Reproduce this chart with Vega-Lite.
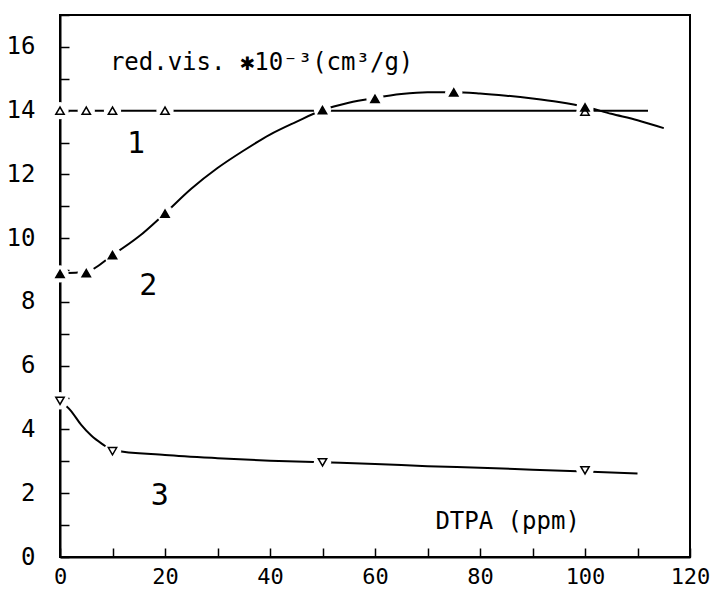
{
  "$schema": "https://vega.github.io/schema/vega-lite/v6.json",
  "autosize": "none",
  "width": 630,
  "height": 542,
  "padding": {"left": 60, "top": 15, "right": 20, "bottom": 37},
  "background": "white",
  "config": {
    "view": {"stroke": "black", "strokeWidth": 2},
    "axis": {
      "domainColor": "black", "domainWidth": 2,
      "tickColor": "black", "tickWidth": 1.5, "tickSize": -9,
      "labelFont": "DejaVu Sans Mono", "labelFontSize": 24, "labelColor": "black",
      "grid": false, "title": null, "zindex": 1
    }
  },
  "datasets": {
    "curves": [
      {"series": "1", "dtpa": 0, "vis": 14.0},
      {"series": "1", "dtpa": 112, "vis": 14.0},
      {"series": "2", "dtpa": 0, "vis": 8.9},
      {"series": "2", "dtpa": 5, "vis": 8.95},
      {"series": "2", "dtpa": 10, "vis": 9.47},
      {"series": "2", "dtpa": 15, "vis": 10.05},
      {"series": "2", "dtpa": 20, "vis": 10.78},
      {"series": "2", "dtpa": 25, "vis": 11.55},
      {"series": "2", "dtpa": 30, "vis": 12.2},
      {"series": "2", "dtpa": 35, "vis": 12.75},
      {"series": "2", "dtpa": 40, "vis": 13.25},
      {"series": "2", "dtpa": 45, "vis": 13.65},
      {"series": "2", "dtpa": 50, "vis": 14.02},
      {"series": "2", "dtpa": 55, "vis": 14.25},
      {"series": "2", "dtpa": 60, "vis": 14.4},
      {"series": "2", "dtpa": 65, "vis": 14.52},
      {"series": "2", "dtpa": 70, "vis": 14.58},
      {"series": "2", "dtpa": 75, "vis": 14.58},
      {"series": "2", "dtpa": 80, "vis": 14.54},
      {"series": "2", "dtpa": 85, "vis": 14.47},
      {"series": "2", "dtpa": 90, "vis": 14.38},
      {"series": "2", "dtpa": 95, "vis": 14.27},
      {"series": "2", "dtpa": 100, "vis": 14.12},
      {"series": "2", "dtpa": 105, "vis": 13.9},
      {"series": "2", "dtpa": 110, "vis": 13.7},
      {"series": "2", "dtpa": 115, "vis": 13.45},
      {"series": "3", "dtpa": 0, "vis": 4.9},
      {"series": "3", "dtpa": 2, "vis": 4.6},
      {"series": "3", "dtpa": 4, "vis": 4.15},
      {"series": "3", "dtpa": 6, "vis": 3.8},
      {"series": "3", "dtpa": 8, "vis": 3.55},
      {"series": "3", "dtpa": 10, "vis": 3.35},
      {"series": "3", "dtpa": 20, "vis": 3.2},
      {"series": "3", "dtpa": 30, "vis": 3.1},
      {"series": "3", "dtpa": 40, "vis": 3.02},
      {"series": "3", "dtpa": 50, "vis": 2.97},
      {"series": "3", "dtpa": 60, "vis": 2.92},
      {"series": "3", "dtpa": 70, "vis": 2.85},
      {"series": "3", "dtpa": 80, "vis": 2.8},
      {"series": "3", "dtpa": 90, "vis": 2.74},
      {"series": "3", "dtpa": 100, "vis": 2.68},
      {"series": "3", "dtpa": 110, "vis": 2.62}
    ],
    "points": [
      {"series": "1", "dtpa": 0, "vis": 14.0},
      {"series": "1", "dtpa": 5, "vis": 14.0},
      {"series": "1", "dtpa": 10, "vis": 14.0},
      {"series": "1", "dtpa": 20, "vis": 14.0},
      {"series": "1", "dtpa": 100, "vis": 13.97},
      {"series": "2", "dtpa": 0, "vis": 8.88},
      {"series": "2", "dtpa": 5, "vis": 8.9},
      {"series": "2", "dtpa": 10, "vis": 9.47},
      {"series": "2", "dtpa": 20, "vis": 10.77},
      {"series": "2", "dtpa": 50, "vis": 14.02},
      {"series": "2", "dtpa": 60, "vis": 14.37},
      {"series": "2", "dtpa": 75, "vis": 14.57},
      {"series": "2", "dtpa": 100, "vis": 14.1},
      {"series": "3", "dtpa": 0, "vis": 4.9},
      {"series": "3", "dtpa": 10, "vis": 3.32},
      {"series": "3", "dtpa": 50, "vis": 2.97},
      {"series": "3", "dtpa": 100, "vis": 2.72}
    ],
    "labels": [
      {"text": "1", "dtpa": 14.5, "vis": 12.95},
      {"text": "2", "dtpa": 16.8, "vis": 8.5},
      {"text": "3", "dtpa": 19, "vis": 1.9}
    ],
    "notes": [
      {"text": "red.vis. ✱10⁻³(cm³/g)", "dtpa": 9.5, "vis": 15.5},
      {"text": "DTPA (ppm)", "dtpa": 71.5, "vis": 1.1}
    ]
  },
  "encoding": {
    "x": {"field": "dtpa", "type": "quantitative",
      "scale": {"domain": [0, 120], "nice": false, "zero": false},
      "axis": {"values": [0,10,20,30,40,50,60,70,80,90,100,110,120],
        "labelExpr": "datum.value % 20 == 0 ? datum.label : ''",
        "labelFontSize": 22,
        "labelPadding": 18, "labelFlush": false}},
    "y": {"field": "vis", "type": "quantitative",
      "scale": {"domain": [0, 17], "nice": false, "zero": false},
      "axis": {"values": [0,1,2,3,4,5,6,7,8,9,10,11,12,13,14,15,16,17],
        "labelExpr": "datum.value % 2 == 0 && datum.value < 17 ? datum.label : ''",
        "labelPadding": 34}}
  },
  "layer": [
    {
      "data": {"name": "curves"},
      "mark": {"type": "line", "color": "black", "strokeWidth": 2, "interpolate": "monotone", "clip": true},
      "encoding": {"detail": {"field": "series"}}
    },
    {
      "data": {"name": "points"},
      "mark": {"type": "point", "shape": "circle", "filled": true, "color": "white", "size": 300, "opacity": 1},
      "encoding": {}
    },
    {
      "data": {"name": "points"},
      "mark": {"type": "point", "stroke": "black", "strokeWidth": 1.5, "size": 70, "opacity": 1},
      "encoding": {
        "shape": {"field": "series", "type": "nominal", "legend": null,
          "scale": {"domain": ["1","2","3"], "range": ["triangle-up","triangle-up","triangle-down"]}},
        "fill": {"field": "series", "type": "nominal", "legend": null,
          "scale": {"domain": ["1","2","3"], "range": ["white","black","white"]}}
      }
    },
    {
      "data": {"name": "labels"},
      "mark": {"type": "text", "font": "DejaVu Sans Mono", "fontSize": 30, "color": "black", "align": "center", "baseline": "middle"},
      "encoding": {"text": {"field": "text"}}
    },
    {
      "data": {"name": "notes"},
      "mark": {"type": "text", "font": "DejaVu Sans Mono", "fontSize": 24, "color": "black", "align": "left", "baseline": "middle"},
      "encoding": {"text": {"field": "text"}}
    }
  ]
}
